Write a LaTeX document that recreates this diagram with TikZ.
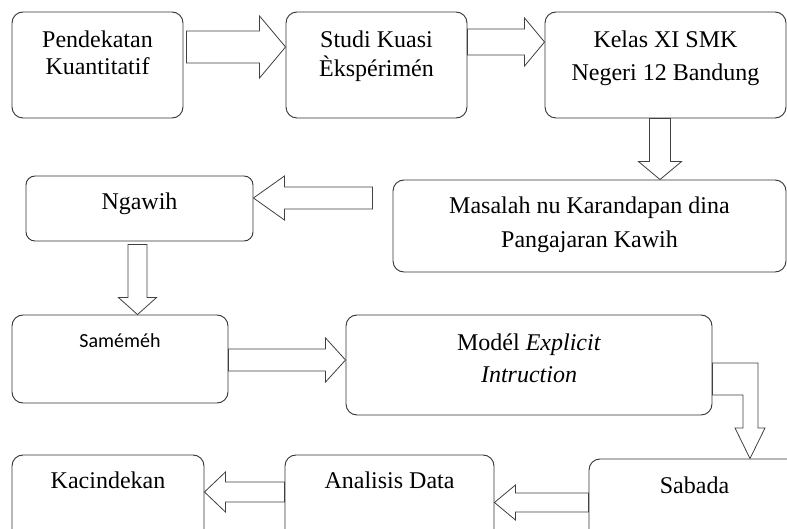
\documentclass[tikz,border=0pt]{standalone}
\usepackage{fontspec}
\setmainfont{Liberation Serif}
\newfontfamily\calibri{Carlito}
\usetikzlibrary{calc}

% text set at the top of a box: width, height, first baseline, text
\newcommand{\boxtext}[4]{\parbox[c][#2pt][t]{#1pt}{\centering\rule{0pt}{#3pt}#4}}

% block arrows: [gap]{from}{to}{centre}{shaft half}{head half}{head length}
\newcommand{\rarrow}[7][0]{%
  \draw[blk] let \p1=(#2.east), \p2=(#3.west) in
    (\x1+#1pt,-#4pt+#5pt) -- (\x2-#7pt,-#4pt+#5pt) -- (\x2-#7pt,-#4pt+#6pt) -- (\x2,-#4pt)
    -- (\x2-#7pt,-#4pt-#6pt) -- (\x2-#7pt,-#4pt-#5pt) -- (\x1+#1pt,-#4pt-#5pt) -- cycle;}
\newcommand{\larrow}[7][0]{%
  \draw[blk] let \p1=(#2.west), \p2=(#3.east) in
    (\x1-#1pt,-#4pt+#5pt) -- (\x2+#7pt,-#4pt+#5pt) -- (\x2+#7pt,-#4pt+#6pt) -- (\x2,-#4pt)
    -- (\x2+#7pt,-#4pt-#6pt) -- (\x2+#7pt,-#4pt-#5pt) -- (\x1-#1pt,-#4pt-#5pt) -- cycle;}
\newcommand{\darrow}[7][0]{%
  \draw[blk] let \p1=(#2.south), \p2=(#3.north) in
    (#4pt-#5pt,\y1-#1pt) -- (#4pt-#5pt,\y2+#7pt) -- (#4pt-#6pt,\y2+#7pt) -- (#4pt,\y2)
    -- (#4pt+#6pt,\y2+#7pt) -- (#4pt+#5pt,\y2+#7pt) -- (#4pt+#5pt,\y1-#1pt) -- cycle;}

\begin{document}
\begin{tikzpicture}[
    x=1pt, y=-1pt,
    box/.style={draw=black!80, line width=0.9pt, rounded corners=11pt, inner sep=0pt,
      font=\fontsize{24}{27}\selectfont},
    blk/.style={draw=black!75, fill=white, line width=0.8pt, line join=miter}
]
    \useasboundingbox (0,0) rectangle (787,529);
    \clip (0,0) rectangle (787,529);

    % top row
    \node[box] (pendekatan) at (97.5,65) {\boxtext{171}{106}{36}{Pendekatan\\Kuantitatif}};
    \node[box] (studi) at (376.5,65) {\boxtext{181}{106}{36}{Studi Kuasi\\[2pt]Èkspérimén}};
    \node[box] (kelas) at (665.5,65) {\boxtext{241}{106}{36}{Kelas XI SMK\\[6pt]Negeri 12 Bandung}};

    % second row
    \node[box] (masalah) at (589.5,226) {\boxtext{393}{92}{34}{Masalah nu Karandapan dina\\[7pt]Pangajaran Kawih}};
    \node[box, rounded corners=9pt] (ngawih) at (139.5,208.5) {\boxtext{227}{65}{34}{Ngawih}};

    % third row
    \node[box, font=\calibri\fontsize{20}{24}\selectfont] (samemeh) at (120,359) {\boxtext{216}{88}{32}{Saméméh}};
    \node[box] (model) at (529,365) {\boxtext{366}{100}{35}{Modél \textit{Explicit}\\[5pt]\textit{Intruction}}};

    % bottom row
    \node[box] (sabada) at (694.5,502) {\boxtext{211}{86}{34}{Sabada}};
    \node[box] (analisis) at (389.5,500) {\boxtext{209}{90}{33}{Analisis Data}};
    \node[box] (kacindekan) at (108,500) {\boxtext{192}{90}{33}{Kacindekan}};

    % arrows
    \rarrow[3]{pendekatan}{studi}{47}{16}{31}{26}
    \rarrow{studi}{kelas}{42}{13}{24}{20}
    \darrow{kelas}{masalah}{660}{10.5}{21.5}{18}
    \larrow[20]{masalah}{ngawih}{198}{11}{22}{31}
    \darrow[3]{ngawih}{samemeh}{137.5}{9.5}{19}{17}
    \rarrow{samemeh}{model}{360}{11}{22}{20}
    \draw[blk] let \p1=(model.east), \p2=(sabada.north) in
      (\x1,-363pt) -- (758pt,-363pt) -- (758pt,-428pt) -- (765pt,-428pt) -- (750pt,\y2)
      -- (735pt,-428pt) -- (743pt,-428pt) -- (743pt,-395pt) -- (\x1,-395pt) -- cycle;
    \larrow{sabada}{analisis}{502.5}{9.5}{17.5}{21}
    \larrow{analisis}{kacindekan}{492}{10}{20}{21}
\end{tikzpicture}
\end{document}
